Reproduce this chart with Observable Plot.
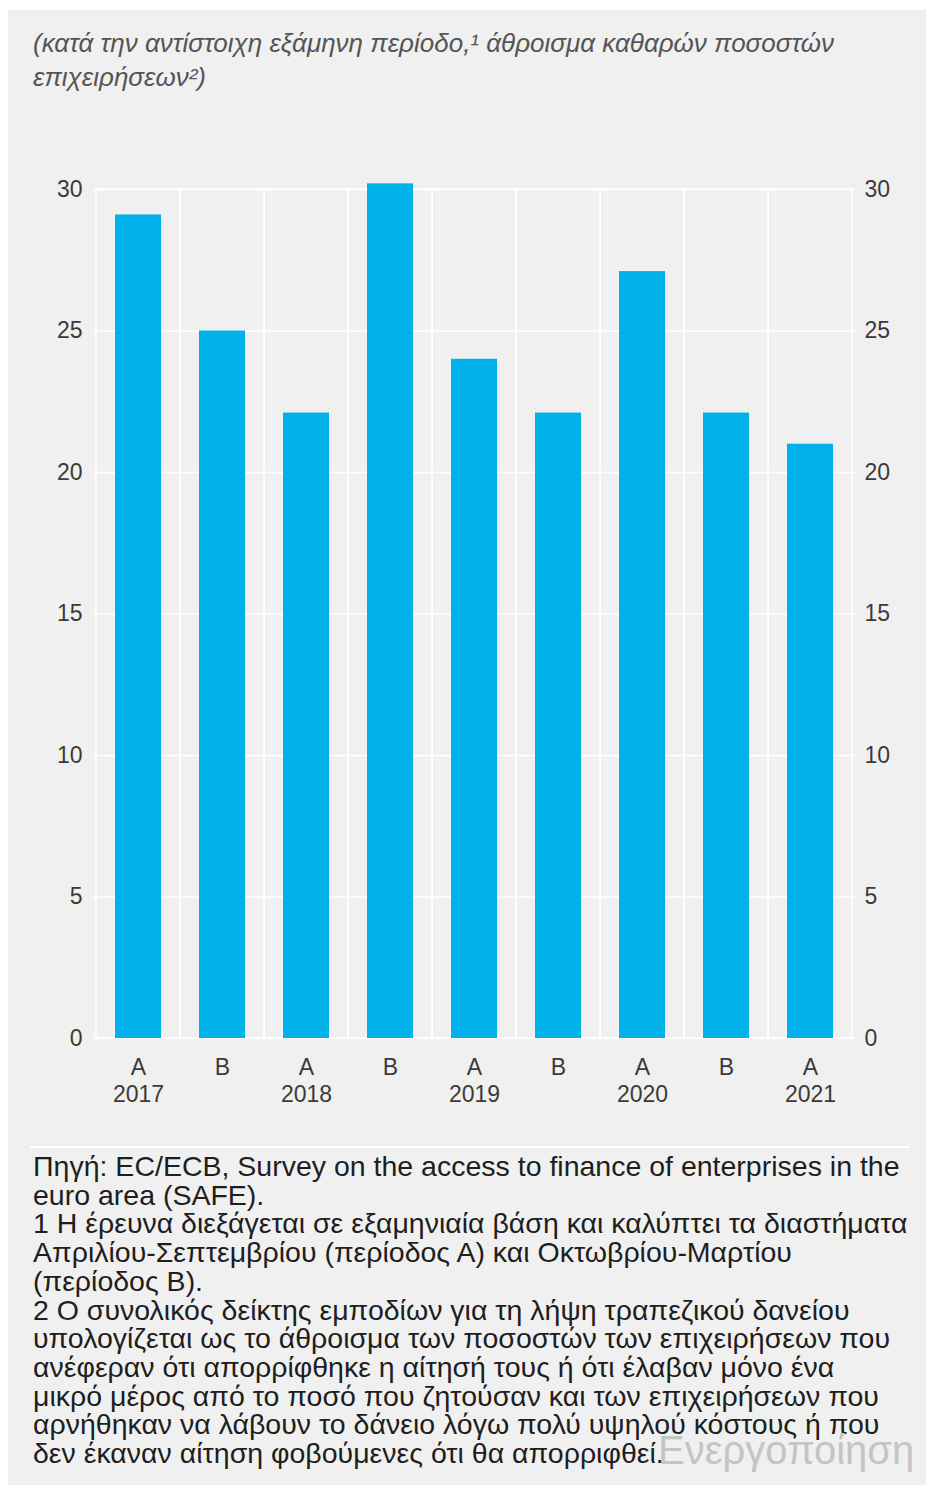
<!DOCTYPE html>
<html>
<head>
<meta charset="utf-8">
<script src="https://cdn.jsdelivr.net/npm/d3@7"></script>
<script src="https://cdn.jsdelivr.net/npm/@observablehq/plot@0.6"></script>
<style>
  html, body { margin: 0; padding: 0; background: #ffffff; }
  #panel { position: absolute; left: 8px; top: 10px; width: 918px; height: 1475px; background: #f0f0f0; overflow: hidden; font-family: "Liberation Sans", Arial, sans-serif; }
  #title { position: absolute; left: 25px; top: 16px; font-size: 26px; line-height: 34px; font-style: italic; color: #555; white-space: pre; }
  #chart { position: absolute; left: -8px; top: 140px; }
  #sep { position: absolute; left: 22px; top: 1136px; width: 880px; height: 2px; background: #ffffff; }
  #notes { position: absolute; left: 25px; top: 1142px; font-size: 28.5px; line-height: 28.7px; color: #1e1e1e; white-space: pre; }
  #wm { position: absolute; left: 650px; top: 1418px; font-size: 40px; color: #c4c4c4; white-space: pre; }
</style>
</head>
<body>
<div id="panel">
  <div id="title"></div>
  <div id="chart"></div>
  <div id="sep"></div>
  <div id="notes"></div>
  <div id="wm"></div>
</div>
<script>
// ---- data ----
const periods = ["2017 A", "2017 B", "2018 A", "2018 B", "2019 A", "2019 B", "2020 A", "2020 B", "2021 A"];
const periodLetters = ["A", "B", "A", "B", "A", "B", "A", "B", "A"];
const yearLabels = ["2017", "", "2018", "", "2019", "", "2020", "", "2021"];
const values = [29.1, 25, 22.1, 30.2, 24, 22.1, 27.1, 22.1, 21];
const yTicks = [0, 5, 10, 15, 20, 25, 30];

const titleLines = [
  "(κατά την αντίστοιχη εξάμηνη περίοδο,¹ άθροισμα καθαρών ποσοστών",
  "επιχειρήσεων²)"
];
const noteLines = [
  "Πηγή: EC/ECB, Survey on the access to finance of enterprises in the",
  "euro area (SAFE).",
  "1 Η έρευνα διεξάγεται σε εξαμηνιαία βάση και καλύπτει τα διαστήματα",
  "Απριλίου-Σεπτεμβρίου (περίοδος Α) και Οκτωβρίου-Μαρτίου",
  "(περίοδος Β).",
  "2 Ο συνολικός δείκτης εμποδίων για τη λήψη τραπεζικού δανείου",
  "υπολογίζεται ως το άθροισμα των ποσοστών των επιχειρήσεων που",
  "ανέφεραν ότι απορρίφθηκε η αίτησή τους ή ότι έλαβαν μόνο ένα",
  "μικρό μέρος από το ποσό που ζητούσαν και των επιχειρήσεων που",
  "αρνήθηκαν να λάβουν το δάνειο λόγω πολύ υψηλού κόστους ή που",
  "δεν έκαναν αίτηση φοβούμενες ότι θα απορριφθεί."
];
const watermark = "Ενεργοποίηση Windows";

// ---- build ----
const data = periods.map((p, i) => ({period: p, value: values[i]}));
const letterOf = new Map(periods.map((p, i) => [p, periodLetters[i]]));
const yearOf = new Map(periods.map((p, i) => [p, yearLabels[i]]));

document.getElementById("title").textContent = titleLines.join("\n");
document.getElementById("notes").textContent = noteLines.join("\n");
document.getElementById("wm").textContent = watermark;

const chart = Plot.plot({
  width: 926,
  height: 980,
  marginLeft: 93,
  marginRight: 71,
  marginTop: 39,
  marginBottom: 92,
  style: {background: "transparent", fontFamily: "'Liberation Sans', Arial, sans-serif", fontSize: "23px", color: "#3a3a3a", overflow: "visible"},
  x: {domain: periods, padding: 0, label: null},
  y: {domain: [0, 30], label: null},
  marks: [
    Plot.barY(periods, {x: d => d, y1: 0, y2: 30, fill: "none", stroke: "#ffffff", strokeWidth: 1.5}),
    Plot.ruleY(yTicks, {stroke: "#ffffff", strokeWidth: 1.5}),
    Plot.barY(data, {x: "period", y: "value", fill: "#00b1ea", insetLeft: 19, insetRight: 19}),
    Plot.axisY({anchor: "left", ticks: yTicks, tickSize: 0, tickPadding: 11, label: null}),
    Plot.axisY({anchor: "right", ticks: yTicks, tickSize: 0, tickPadding: 9, label: null}),
    Plot.axisX({anchor: "bottom", tickSize: 0, tickPadding: 20, tickFormat: d => letterOf.get(d), label: null}),
    Plot.axisX({anchor: "bottom", tickSize: 0, tickPadding: 47, tickFormat: d => yearOf.get(d), label: null})
  ]
});
document.getElementById("chart").appendChild(chart);
</script>
</body>
</html>
